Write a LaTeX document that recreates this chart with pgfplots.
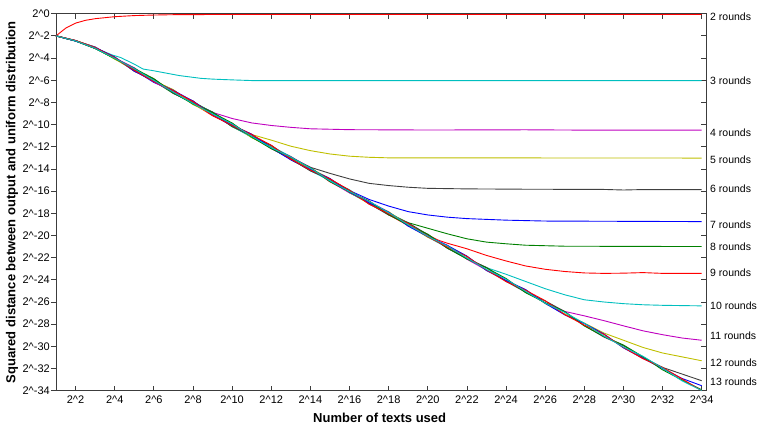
\documentclass[border=0pt]{standalone}
\usepackage{fontspec}
\setmainfont{Liberation Sans}
\usepackage{pgfplots}
\pgfplotsset{compat=1.18}

\definecolor{mred}{RGB}{255,0,0}
\definecolor{mcyan}{RGB}{0,191,191}
\definecolor{mmag}{RGB}{191,0,191}
\definecolor{myel}{RGB}{191,191,0}
\definecolor{mgray}{RGB}{64,64,64}
\definecolor{mblue}{RGB}{0,0,255}
\definecolor{mgreen}{RGB}{0,128,0}
\definecolor{frame}{RGB}{60,60,60}

\pgfplotsset{
  common/.style={
    at={(0,0)}, anchor=south west,
    scale only axis, width=650pt, height=377pt,
    xmin=1, xmax=34.22, ymin=-34, ymax=0,
    major tick length=5pt,
    tick style={frame, line width=0.8pt},
    ticklabel style={font=\fontsize{11}{13}\selectfont},
  },
}

\begin{document}
\begin{tikzpicture}
\useasboundingbox (-56pt,-36.3pt) rectangle (702pt,390.7pt);

% left y ticks point outward and carry the labels
\begin{axis}[common,
  axis line style={draw=none},
  xtick=\empty,
  ytick={-34,-32,...,0},
  yticklabels={2\textasciicircum-34,2\textasciicircum-32,2\textasciicircum-30,2\textasciicircum-28,2\textasciicircum-26,2\textasciicircum-24,2\textasciicircum-22,2\textasciicircum-20,2\textasciicircum-18,2\textasciicircum-16,2\textasciicircum-14,2\textasciicircum-12,2\textasciicircum-10,2\textasciicircum-8,2\textasciicircum-6,2\textasciicircum-4,2\textasciicircum-2,2\textasciicircum0},
  ytick pos=left, tick align=outside,
  yticklabel style={inner sep=1pt},
  ylabel={Squared distance between output and uniform distribution},
  ylabel style={at={(axis description cs:-0.0677,0.5)}, anchor=center, font=\fontsize{13}{15}\selectfont\bfseries},
]
\end{axis}

\begin{axis}[common,
  axis line style={frame, line width=0.8pt},
  tick align=inside,
  xtick={2,4,...,34},
  xticklabels={2\textasciicircum2,2\textasciicircum4,2\textasciicircum6,2\textasciicircum8,2\textasciicircum10,2\textasciicircum12,2\textasciicircum14,2\textasciicircum16,2\textasciicircum18,2\textasciicircum20,2\textasciicircum22,2\textasciicircum24,2\textasciicircum26,2\textasciicircum28,2\textasciicircum30,2\textasciicircum32,2\textasciicircum34},
  xticklabel style={yshift=-2pt},
  xtick pos=both, xticklabel pos=lower,
  ytick={-34,-32,...,0}, yticklabels={}, ytick pos=right,
  xlabel={Number of texts used},
  xlabel style={at={(axis description cs:0.498,-0.071)}, anchor=center, font=\fontsize{13}{15}\selectfont\bfseries},
  clip=false,
  every axis plot/.append style={line width=0.9pt},
]
% 2 rounds
\addplot[mred] coordinates {(1,-2) (1.5,-1.3) (2,-0.85) (2.5,-0.6) (3,-0.45) (4,-0.27) (5,-0.17) (6,-0.12) (7,-0.09) (8,-0.08) (10,-0.07) (34,-0.07)};
% 3 rounds
\addplot[mcyan] coordinates {(1,-2) (2,-2.45) (3,-3.08) (3.5,-3.45) (3.9,-3.74) (4.3,-3.95) (5,-4.55) (5.45,-4.99) (6,-5.15) (7.3,-5.58) (8.4,-5.83) (9,-5.9) (10,-5.97) (11,-6.03) (34,-6.03)};
% 4 rounds
\addplot[mmag] coordinates {(1,-2) (2,-2.43) (3,-3.12) (4,-3.96) (5,-5.12) (6,-5.9) (7,-7.16) (8,-8.04) (8.5,-8.48) (9,-8.9) (10,-9.45) (11,-9.85) (12,-10.08) (13,-10.25) (14,-10.38) (16,-10.46) (20,-10.49) (25,-10.47) (28,-10.5) (34,-10.5)};
% 5 rounds
\addplot[myel] coordinates {(1,-2) (2,-2.41) (3,-3.02) (4,-4.1) (5,-4.92) (6,-6.14) (7,-6.9) (8,-8.2) (9,-8.94) (10,-10.1) (10.5,-10.5) (11,-10.9) (12,-11.4) (13,-11.95) (14,-12.35) (15,-12.65) (16,-12.85) (17,-12.95) (18,-13.0) (34,-13.02)};
% 6 rounds
\addplot[mgray] coordinates {(1,-2) (2,-2.47) (3,-3.14) (4,-3.9) (5,-5.2) (6,-5.96) (7,-7.1) (8,-7.86) (9,-9.16) (10,-9.92) (11,-11.14) (12,-12.06) (13,-12.88) (13.5,-13.42) (14,-13.85) (15,-14.4) (16,-14.9) (17,-15.3) (18,-15.5) (19,-15.65) (20,-15.75) (22,-15.8) (25,-15.83) (29,-15.85) (30,-15.9) (31,-15.86) (34,-15.87)};
% 7 rounds
\addplot[mblue] coordinates {(1,-2) (2,-2.45) (3,-3.0) (4,-4.04) (5,-5.08) (6,-6.2) (7,-6.94) (8,-8.12) (9,-9.08) (10,-10.16) (11,-10.9) (12,-12.14) (13,-13.12) (14,-13.92) (15,-15.1) (15.5,-15.48) (16,-15.95) (17,-16.75) (18,-17.35) (19,-17.85) (20,-18.15) (21,-18.35) (22,-18.48) (24,-18.62) (26,-18.7) (34,-18.75)};
% 8 rounds
\addplot[mgreen] coordinates {(1,-2) (2,-2.45) (3,-3.14) (4,-4.06) (5,-4.9) (6,-6.08) (7,-7.2) (8,-7.94) (9,-8.9) (10,-10.2) (11,-11.08) (12,-11.9) (13,-13.16) (14,-14.12) (15,-14.94) (16,-16.14) (17,-17.08) (18,-17.92) (18.5,-18.42) (19,-18.85) (20,-19.35) (21,-19.85) (22,-20.3) (23,-20.6) (24,-20.75) (25,-20.88) (27,-20.97) (34,-21.0)};
% 9 rounds
\addplot[mred] coordinates {(1,-2) (2,-2.43) (3,-3.04) (4,-3.94) (5,-5.16) (6,-6.06) (7,-6.88) (8,-8.1) (9,-9.2) (10,-10.04) (11,-10.86) (12,-12.16) (13,-13.06) (14,-13.9) (15,-15.16) (16,-16.08) (17,-16.88) (18,-18.14) (19,-19.1) (20,-19.94) (20.5,-20.4) (21,-20.7) (22,-21.2) (23,-21.8) (24,-22.3) (25,-22.75) (26,-23.05) (27,-23.25) (28,-23.38) (29,-23.42) (30,-23.4) (31,-23.35) (32,-23.42) (34,-23.42)};
% 10 rounds
\addplot[mcyan] coordinates {(1,-2) (2,-2.47) (3,-3.08) (4,-4.02) (5,-5.1) (6,-5.92) (7,-7.14) (8,-8.06) (9,-8.88) (10,-10.12) (11,-11.16) (12,-11.94) (13,-12.9) (14,-14.16) (15,-15.06) (16,-15.88) (17,-17.16) (18,-18.08) (19,-18.9) (20,-20.14) (21,-21.1) (22,-22.1) (23,-22.9) (24,-23.5) (25,-24.15) (26,-24.8) (27,-25.35) (28,-25.8) (29,-26.0) (30,-26.15) (31,-26.25) (32,-26.3) (34,-26.35)};
% 11 rounds
\addplot[mmag] coordinates {(1,-2) (2,-2.41) (3,-3.12) (4,-3.98) (5,-4.88) (6,-6.16) (7,-7.06) (8,-7.9) (9,-9.12) (10,-9.88) (11,-11.1) (12,-12.12) (13,-12.92) (14,-13.86) (15,-15.12) (16,-16.16) (17,-16.94) (18,-17.88) (19,-19.14) (20,-20.06) (21,-20.88) (22,-22.14) (23,-23.12) (24,-23.92) (25,-25.08) (26,-26.08) (27,-26.85) (28,-27.25) (29,-27.68) (30,-28.15) (31,-28.6) (32,-28.95) (33,-29.25) (34,-29.45)};
% 12 rounds
\addplot[myel] coordinates {(1,-2) (2,-2.45) (3,-3.02) (4,-4.08) (5,-5.14) (6,-6.04) (7,-6.86) (8,-8.16) (9,-9.1) (10,-9.9) (11,-11.18) (12,-12.04) (13,-13.14) (14,-13.94) (15,-14.88) (16,-16.12) (17,-17.14) (18,-17.86) (19,-19.08) (20,-20.16) (21,-20.92) (22,-21.88) (23,-23.14) (24,-24.08) (25,-24.9) (26,-26.14) (27,-27.08) (28,-27.9) (29,-28.8) (30,-29.45) (31,-30.1) (32,-30.6) (33,-30.95) (34,-31.3)};
% 13 rounds
\addplot[mgray] coordinates {(1,-2) (2,-2.43) (3,-3.1) (4,-4.0) (5,-5.06) (6,-5.88) (7,-7.18) (8,-8.08) (9,-8.86) (10,-10.14) (11,-11.04) (12,-11.88) (13,-13.1) (14,-14.18) (15,-14.92) (16,-15.94) (17,-17.12) (18,-18.16) (19,-18.86) (20,-19.92) (21,-21.16) (22,-22.06) (23,-22.88) (24,-24.14) (25,-25.12) (26,-25.9) (27,-26.86) (28,-28.12) (29,-29.16) (30,-29.94) (31,-31.0) (32,-31.9) (33,-32.5) (34,-33.1)};
% 14 rounds
\addplot[mblue] coordinates {(1,-2) (2,-2.47) (3,-3.04) (4,-3.92) (5,-5.18) (6,-6.1) (7,-6.92) (8,-7.88) (9,-9.14) (10,-10.06) (11,-10.88) (12,-12.1) (13,-13.18) (14,-14.04) (15,-14.86) (16,-16.1) (17,-17.06) (18,-17.9) (19,-19.16) (20,-20.1) (21,-20.9) (22,-21.86) (23,-23.16) (24,-24.06) (25,-24.88) (26,-26.12) (27,-27.16) (28,-27.94) (29,-28.88) (30,-30.14) (31,-31.08) (32,-32.0) (33,-32.9) (34,-33.55)};
% 15 rounds
\addplot[mgreen] coordinates {(1,-2) (2,-2.45) (3,-3.13) (4,-4.04) (5,-4.94) (6,-5.86) (7,-7.12) (8,-8.14) (9,-8.92) (10,-9.86) (11,-11.12) (12,-12.18) (13,-12.96) (14,-13.88) (15,-15.14) (16,-16.06) (17,-16.9) (18,-18.12) (19,-19.06) (20,-19.88) (21,-21.14) (22,-22.12) (23,-22.92) (24,-23.88) (25,-25.16) (26,-26.06) (27,-26.88) (28,-28.16) (29,-29.1) (30,-29.88) (31,-30.94) (32,-32.12) (33,-33.04) (34,-33.92)};
% 16 rounds
\addplot[mred] coordinates {(1,-2) (2,-2.43) (3,-3.06) (4,-3.96) (5,-5.1) (6,-6.12) (7,-6.96) (8,-7.92) (9,-9.18) (10,-10.08) (11,-10.92) (12,-11.86) (13,-13.12) (14,-14.1) (15,-14.9) (16,-15.92) (17,-17.18) (18,-18.04) (19,-18.92) (20,-20.12) (21,-21.04) (22,-21.9) (23,-23.1) (24,-24.16) (25,-24.94) (26,-25.88) (27,-27.14) (28,-28.08) (29,-28.92) (30,-30.1) (31,-31.12) (32,-31.9) (33,-32.94) (34,-34.0)};
% 17 rounds
\addplot[mcyan] coordinates {(1,-2) (2,-2.45) (3,-3.12) (4,-4.02) (5,-4.96) (6,-6.02) (7,-7.08) (8,-8.1) (9,-9.04) (10,-9.94) (11,-11.06) (12,-12.08) (13,-12.94) (14,-13.92) (15,-15.08) (16,-16.04) (17,-16.92) (18,-17.94) (19,-19.04) (20,-20.08) (21,-20.94) (22,-22.04) (23,-23.06) (24,-23.94) (25,-25.04) (26,-26.1) (27,-26.94) (28,-27.92) (29,-29.06) (30,-30.06) (31,-30.9) (32,-31.96) (33,-33.12) (34,-33.98)};

% labels of the plateau levels
\begin{scope}[every node/.style={anchor=west, inner sep=0pt, xshift=4pt, font=\fontsize{10.5}{12}\selectfont}]
\node at (axis cs:34.22,-0.3) {2 rounds};
\node at (axis cs:34.22,-6.08) {3 rounds};
\node at (axis cs:34.22,-10.77) {4 rounds};
\node at (axis cs:34.22,-13.13) {5 rounds};
\node at (axis cs:34.22,-15.8) {6 rounds};
\node at (axis cs:34.22,-18.99) {7 rounds};
\node at (axis cs:34.22,-21.05) {8 rounds};
\node at (axis cs:34.22,-23.38) {9 rounds};
\node at (axis cs:34.22,-26.3) {10 rounds};
\node at (axis cs:34.22,-29.03) {11 rounds};
\node at (axis cs:34.22,-31.5) {12 rounds};
\node at (axis cs:34.22,-33.22) {13 rounds};
\end{scope}
\end{axis}
\end{tikzpicture}
\end{document}
